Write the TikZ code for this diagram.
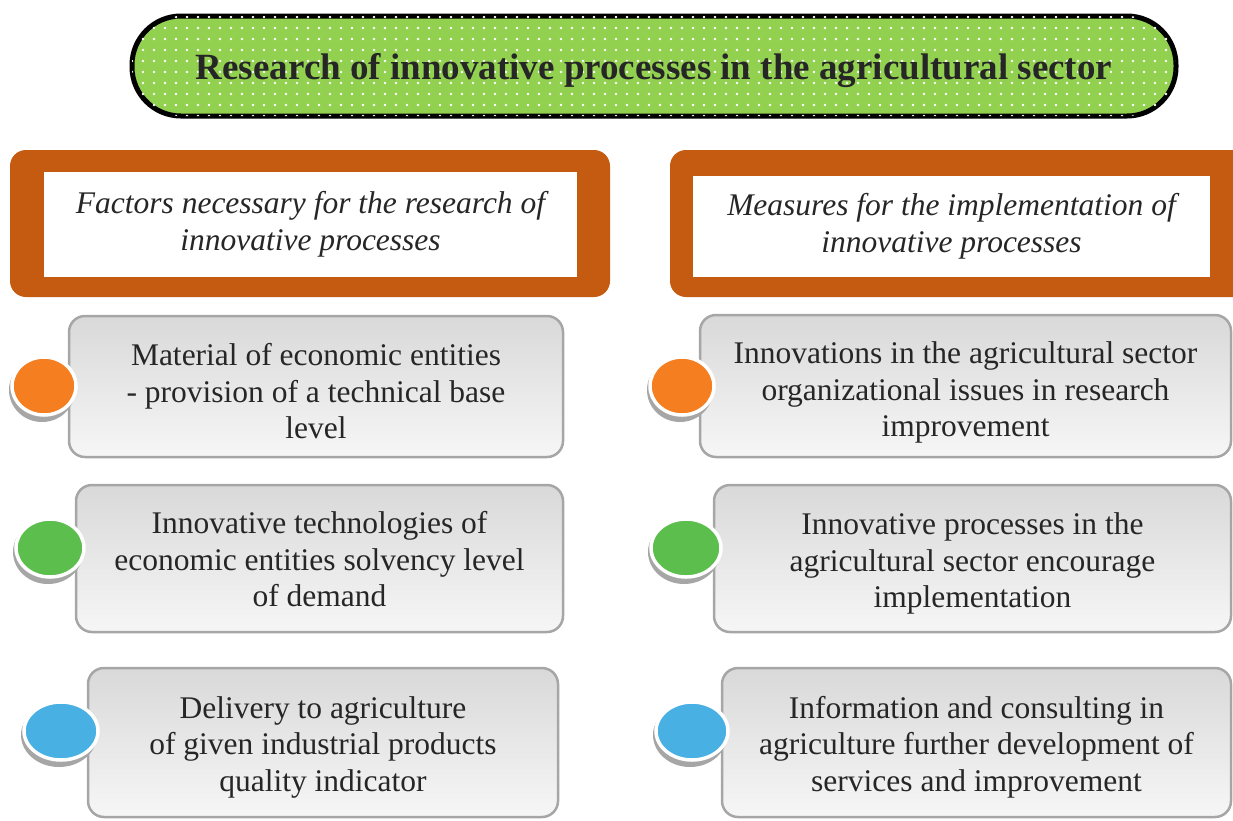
\documentclass[tikz,border=0pt]{standalone}
\usepackage{fontspec}
\setmainfont{Liberation Serif}
\usetikzlibrary{patterns.meta}
\usetikzlibrary{shapes.geometric}

\definecolor{leafgreen}{HTML}{92D050}
\definecolor{rust}{HTML}{C55A11}
\definecolor{inkgray}{HTML}{262626}
\definecolor{boxedge}{HTML}{A6A6A6}
\definecolor{dotorange}{HTML}{F47E20}
\definecolor{dotgreen}{HTML}{5CBE4D}
\definecolor{dotblue}{HTML}{49B0E3}

\tikzset{
  item/.style={draw=boxedge, line width=2.5pt, rounded corners=16pt,
    top color=gray!30, bottom color=gray!7, text=inkgray,
    font=\fontsize{31.5}{36.5}\selectfont, align=center, inner sep=0pt,
    text depth=0pt, text height=98pt},
  head/.style={fill=white, text=inkgray, align=center, inner sep=0pt,
    font=\fontsize{31.5}{37}\selectfont\itshape},
  bullet/.style={ellipse, draw=white, line width=3.5pt, inner sep=0pt,
    minimum height=58pt},
  shade/.style={ellipse, fill=gray!70, inner sep=0pt, minimum height=64pt},
}

\begin{document}
\begin{tikzpicture}[x=1pt, y=-1pt]
\useasboundingbox (0,0) rectangle (1233,820);

% title bar
\node[draw=black, line width=5pt, rounded corners=49pt, fill=leafgreen,
  postaction={pattern={Dots[distance=11pt, radius=1.4pt]}, pattern color=white},
  minimum width=1044pt, minimum height=100pt, inner sep=0pt,
  text height=26pt, text depth=0pt,
  text=inkgray, font=\fontsize{37}{42}\selectfont\bfseries]
  (title) at (654,66) {Research of innovative processes in the agricultural sector};

% column headers
\fill[rust, rounded corners=16pt] (10,150) rectangle (610,297);
\node[head, minimum width=533pt, minimum height=105pt] (factHead) at (310.5,224.5)
  {Factors necessary for the research of\\innovative processes};

\fill[rust, rounded corners=16pt] (670,150) rectangle (1260,297);
\node[head, minimum width=517pt, minimum height=101pt] (measHead) at (951.5,226.5)
  {Measures for the implementation of\\innovative processes};

% left column
\node[item, minimum width=494pt, minimum height=141pt, text height=104pt] (fact1) at (316,386.5)
  {Material of economic entities\\- provision of a technical base\\level};
\node[item, minimum width=487pt, minimum height=147pt, text height=96pt] (fact2) at (319.5,558.5)
  {Innovative technologies of\\economic entities solvency level\\of demand};
\node[item, minimum width=470pt, minimum height=149pt, text height=97pt] (fact3) at (323,742.5)
  {Delivery to agriculture\\of given industrial products\\quality indicator};

% right column
\node[item, minimum width=531pt, minimum height=142pt, text height=101pt] (meas1) at (965.5,386)
  {Innovations in the agricultural sector\\organizational issues in research\\improvement};
\node[item, minimum width=517pt, minimum height=147pt] (meas2) at (972.5,558.5)
  {Innovative processes in the\\agricultural sector encourage\\implementation};
\node[item, minimum width=509pt, minimum height=149pt, text height=97pt] (meas3) at (976.5,742.5)
  {Information and consulting in\\agriculture further development of\\services and improvement};

% round markers with a small shadow
\node[shade, minimum width=66pt] (s1) at (42,390) {};
\node[bullet, fill=dotorange, minimum width=64pt] (dot1) at (44,386) {};
\node[shade, minimum width=70pt] (s2) at (48,552) {};
\node[bullet, fill=dotgreen, minimum width=68pt] (dot2) at (50,548) {};
\node[shade, minimum width=76pt] (s3) at (59,735) {};
\node[bullet, fill=dotblue, minimum width=74pt] (dot3) at (61,731) {};

\node[shade, minimum width=66pt] (s4) at (680,390) {};
\node[bullet, fill=dotorange, minimum width=64pt] (dot4) at (682,386) {};
\node[shade, minimum width=72pt] (s5) at (684,552) {};
\node[bullet, fill=dotgreen, minimum width=70pt] (dot5) at (686,548) {};
\node[shade, minimum width=74pt] (s6) at (690,735) {};
\node[bullet, fill=dotblue, minimum width=72pt] (dot6) at (692,731) {};

\end{tikzpicture}
\end{document}
